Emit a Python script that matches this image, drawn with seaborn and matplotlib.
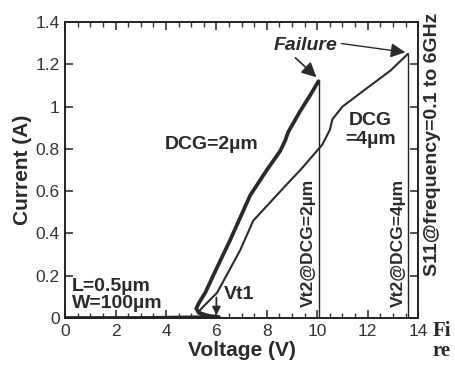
import pandas as pd
import seaborn as sns
import matplotlib as mpl
import matplotlib.pyplot as plt

# DCG = 2um (thick curve) and DCG = 4um (thin curve), I-V with snapback
dcg2_v = [0.0, 3.0, 6.1, 5.7, 5.3, 5.2, 5.3, 5.56, 6.03, 6.55, 7.34, 8.0, 8.53, 8.73, 8.85, 9.33, 9.7, 10.05]
dcg2_i = [0.0, 0.0, 0.005, 0.01, 0.025, 0.045, 0.07, 0.12, 0.24, 0.37, 0.58, 0.70, 0.79, 0.84, 0.88, 0.98, 1.05, 1.12]
dcg4_v = [0.0, 6.1, 5.6, 5.3, 5.45, 6.03, 6.94, 7.46, 8.0, 8.93, 9.33, 10.2, 10.5, 10.6, 11.0, 12.0, 12.9, 13.6]
dcg4_i = [0.0, 0.005, 0.01, 0.03, 0.05, 0.12, 0.32, 0.46, 0.53, 0.65, 0.70, 0.82, 0.89, 0.94, 1.0, 1.09, 1.17, 1.25]

vt2_v = [10.05, 13.6]
vt2_i = [1.12, 1.25]
vt2_labels = ['Vt2@DCG=2\u00b5m', 'Vt2@DCG=4\u00b5m']
vt1_v = 6.0

x_ticks = [0, 2, 4, 6, 8, 10, 12, 14]
y_ticks = [0, 0.2, 0.4, 0.6, 0.8, 1.0, 1.2, 1.4]
y_tick_labels = ['0', '0.2', '0.4', '0.6', '0.8', '1', '1.2', '1.4']

df2 = pd.DataFrame({'V': dcg2_v, 'I': dcg2_i})
df4 = pd.DataFrame({'V': dcg4_v, 'I': dcg4_i})

sns.set_style("ticks")
plt.rcParams['font.family'] = ['Liberation Sans', 'DejaVu Sans']

fig = plt.figure(figsize=(4.55, 3.7), dpi=100)
ax = fig.add_axes([0.143, 0.1405, 0.776, 0.80])

sns.lineplot(data=df2, x='V', y='I', sort=False, estimator=None, color='#2a2a2a', lw=2.7, ax=ax)
sns.lineplot(data=df4, x='V', y='I', sort=False, estimator=None, color='#2a2a2a', lw=1.5, ax=ax)

for v, i, lab in zip(vt2_v, vt2_i, vt2_labels):
    ax.vlines(v, 0, i, color='#222222', lw=1.0)
    ax.text(v - 0.4, 0.355, lab, rotation=90, ha='center', va='center',
            fontsize=12.5, fontweight='bold', color='#2a2a2a')

ax.set_xlim(0, 14)
ax.set_ylim(0, 1.4)
ax.set_xticks(x_ticks)
ax.set_yticks(y_ticks)
ax.set_yticklabels(y_tick_labels)
ax.xaxis.set_minor_locator(mpl.ticker.MultipleLocator(0.5))
ax.tick_params(axis='x', which='both', direction='in', top=True, labelsize=12.5,
               colors='#333333', pad=4)
ax.tick_params(axis='x', which='major', length=6, width=1.2)
ax.tick_params(axis='x', which='minor', length=3.5, width=1.0)
ax.tick_params(axis='y', which='major', direction='in', right=True, length=6, width=1.2,
               labelsize=12.5, colors='#333333', pad=4)
for s in ax.spines.values():
    s.set_linewidth(1.4)
    s.set_color('#222222')

ax.set_xlabel('Voltage (V)', fontsize=15, fontweight='bold', color='#2a2a2a', labelpad=2)
ax.set_ylabel('Current (A)', fontsize=15, fontweight='bold', color='#2a2a2a', labelpad=2)

txt = dict(fontweight='bold', color='#2a2a2a')
ax.text(5.8, 0.82, 'DCG=2\u00b5m', ha='center', va='center', fontsize=14, **txt)
ax.text(12.1, 0.89, 'DCG\n=4\u00b5m', ha='center', va='center', fontsize=14, linespacing=1.15, **txt)
ax.text(0.28, 0.11, 'L=0.5\u00b5m\nW=100\u00b5m', ha='left', va='center', fontsize=14, linespacing=1.0, **txt)
ax.text(6.3, 0.11, 'Vt1', ha='left', va='center', fontsize=14, **txt)
ax.annotate('', xy=(vt1_v, 0.0), xytext=(vt1_v, 0.11),
            arrowprops=dict(arrowstyle='-|>', color='#2a2a2a', lw=1.3, mutation_scale=12))

ax.text(9.52, 1.29, 'Failure', ha='center', va='center', fontsize=14, fontstyle='italic', **txt)
ax.annotate('', xy=(dcg2_v[-1], dcg2_i[-1] + 0.01), xytext=(9.05, 1.24),
            arrowprops=dict(arrowstyle='-|>', color='#2a2a2a', lw=1.2, mutation_scale=22))
ax.annotate('', xy=(dcg4_v[-1], dcg4_i[-1] + 0.005), xytext=(10.85, 1.30),
            arrowprops=dict(arrowstyle='-|>', color='#2a2a2a', lw=1.0, mutation_scale=22))

fig.text(0.951, 0.61, 'S11@frequency=0.1 to 6GHz', rotation=90, ha='center', va='center',
         fontsize=14, **txt)
fig.text(0.951, 0.105, 'Fi', ha='left', va='center', fontsize=15,
         family=['Liberation Serif', 'DejaVu Serif'], **txt)
fig.text(0.951, 0.05, 're', ha='left', va='center', fontsize=15,
         family=['Liberation Serif', 'DejaVu Serif'], **txt)

fig.savefig('out.png', dpi=100)
